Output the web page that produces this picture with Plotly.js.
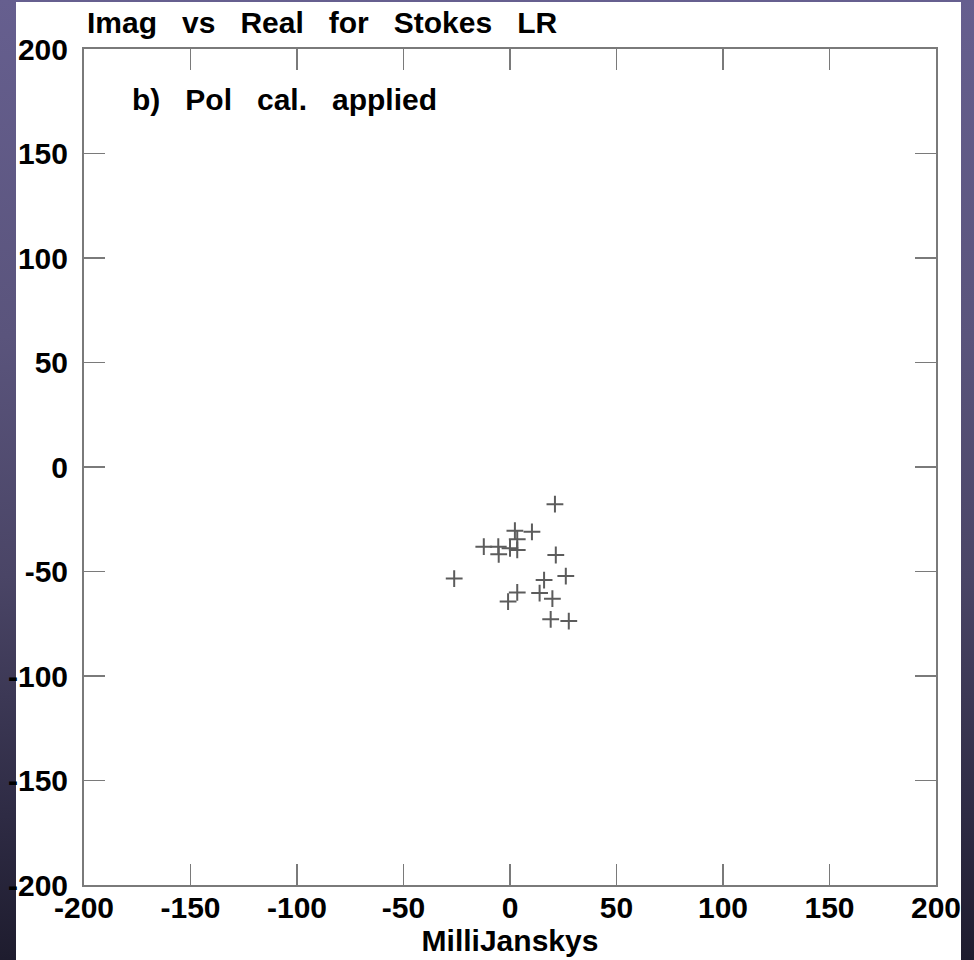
<!DOCTYPE html>
<html>
<head>
<meta charset="utf-8">
<script src="https://cdn.plot.ly/plotly-3.0.1.min.js"></script>
<style>
  html, body { margin: 0; padding: 0; }
  body { width: 974px; height: 960px; overflow: hidden;
         background: linear-gradient(to bottom, #665f8f 0%, #5a547c 35%, #4a4566 60%, #2e2b44 85%, #1e1c2e 100%); }
  #chart { width: 974px; height: 960px; }
</style>
</head>
<body>
<div id="chart"></div>
<script>
// Visibility data for Stokes LR (MilliJanskys)
const realPart = [21.1, 2.3, 10.3, 3.4, -12.3, -5.5, -5.3, 0.0, 3.4, 21.5, -26.2, 16.0, 26.2, 3.4, -0.9, 13.9, 19.9, 19.1, 27.6];
const imagPart = [-17.8, -30.5, -31.0, -34.6, -38.1, -38.1, -41.8, -38.9, -39.7, -42.1, -53.4, -54.1, -52.2, -60.0, -64.4, -60.3, -63.0, -72.9, -73.7];

const tickValues = [-200, -150, -100, -50, 0, 50, 100, 150, 200];
const tickLabels = ["-200", "-150", "-100", "-50", "0", "50", "100", "150", "200"];

const gap = "\u00a0\u00a0\u00a0";
const titleText = ["Imag", "vs", "Real", "for", "Stokes", "LR"].join(gap);
const panelText = ["b)", "Pol", "cal.", "applied"].join(gap);
const xTitle = "MilliJanskys";

const font = { family: "Liberation Sans, Arial, sans-serif", size: 30, color: "#000000", weight: "bold" };

const axisCommon = {
  range: [-200, 200],
  tickmode: "array",
  tickvals: tickValues,
  ticktext: tickLabels,
  ticks: "inside",
  ticklen: 21,
  tickwidth: 1.5,
  tickcolor: "#7a7a7a",
  showline: true,
  linecolor: "#7a7a7a",
  linewidth: 2,
  mirror: "ticks",
  showgrid: false,
  zeroline: false,
  tickfont: font,
  fixedrange: true
};

const trace = {
  type: "scatter",
  mode: "markers",
  x: realPart,
  y: imagPart,
  marker: { symbol: "cross-thin-open", size: 12, line: { width: 2, color: "#5c5c5c" }, color: "#5c5c5c" },
  hoverinfo: "skip"
};

const layout = {
  width: 974,
  height: 960,
  margin: { l: 84, r: 38, t: 49, b: 75, pad: 0 },
  paper_bgcolor: "rgba(0,0,0,0)",
  plot_bgcolor: "#ffffff",
  showlegend: false,
  title: {
    text: titleText,
    font: font,
    xref: "container", yref: "container",
    x: 87 / 974, xanchor: "left",
    y: 1 - 22 / 960, yanchor: "middle"
  },
  xaxis: Object.assign({}, axisCommon, {
    title: { text: xTitle, font: font, standoff: 0 },
    ticklabelstandoff: -5
  }),
  yaxis: Object.assign({}, axisCommon, {
    ticklabelstandoff: 8
  }),
  shapes: [{
    type: "rect", xref: "paper", yref: "paper", layer: "below",
    x0: (16 - 84) / 852, x1: (961 - 84) / 852,
    y0: (885 - 962) / 836, y1: (885 - 2) / 836,
    fillcolor: "#ffffff", line: { width: 0 }
  }],
  annotations: [{
    text: panelText, font: font, showarrow: false,
    xref: "paper", yref: "paper",
    x: (130 - 84) / 852, xanchor: "left",
    y: (885 - 99) / 836, yanchor: "middle"
  }]
};

Plotly.newPlot("chart", [trace], layout, { displayModeBar: false, staticPlot: true });
</script>
</body>
</html>
